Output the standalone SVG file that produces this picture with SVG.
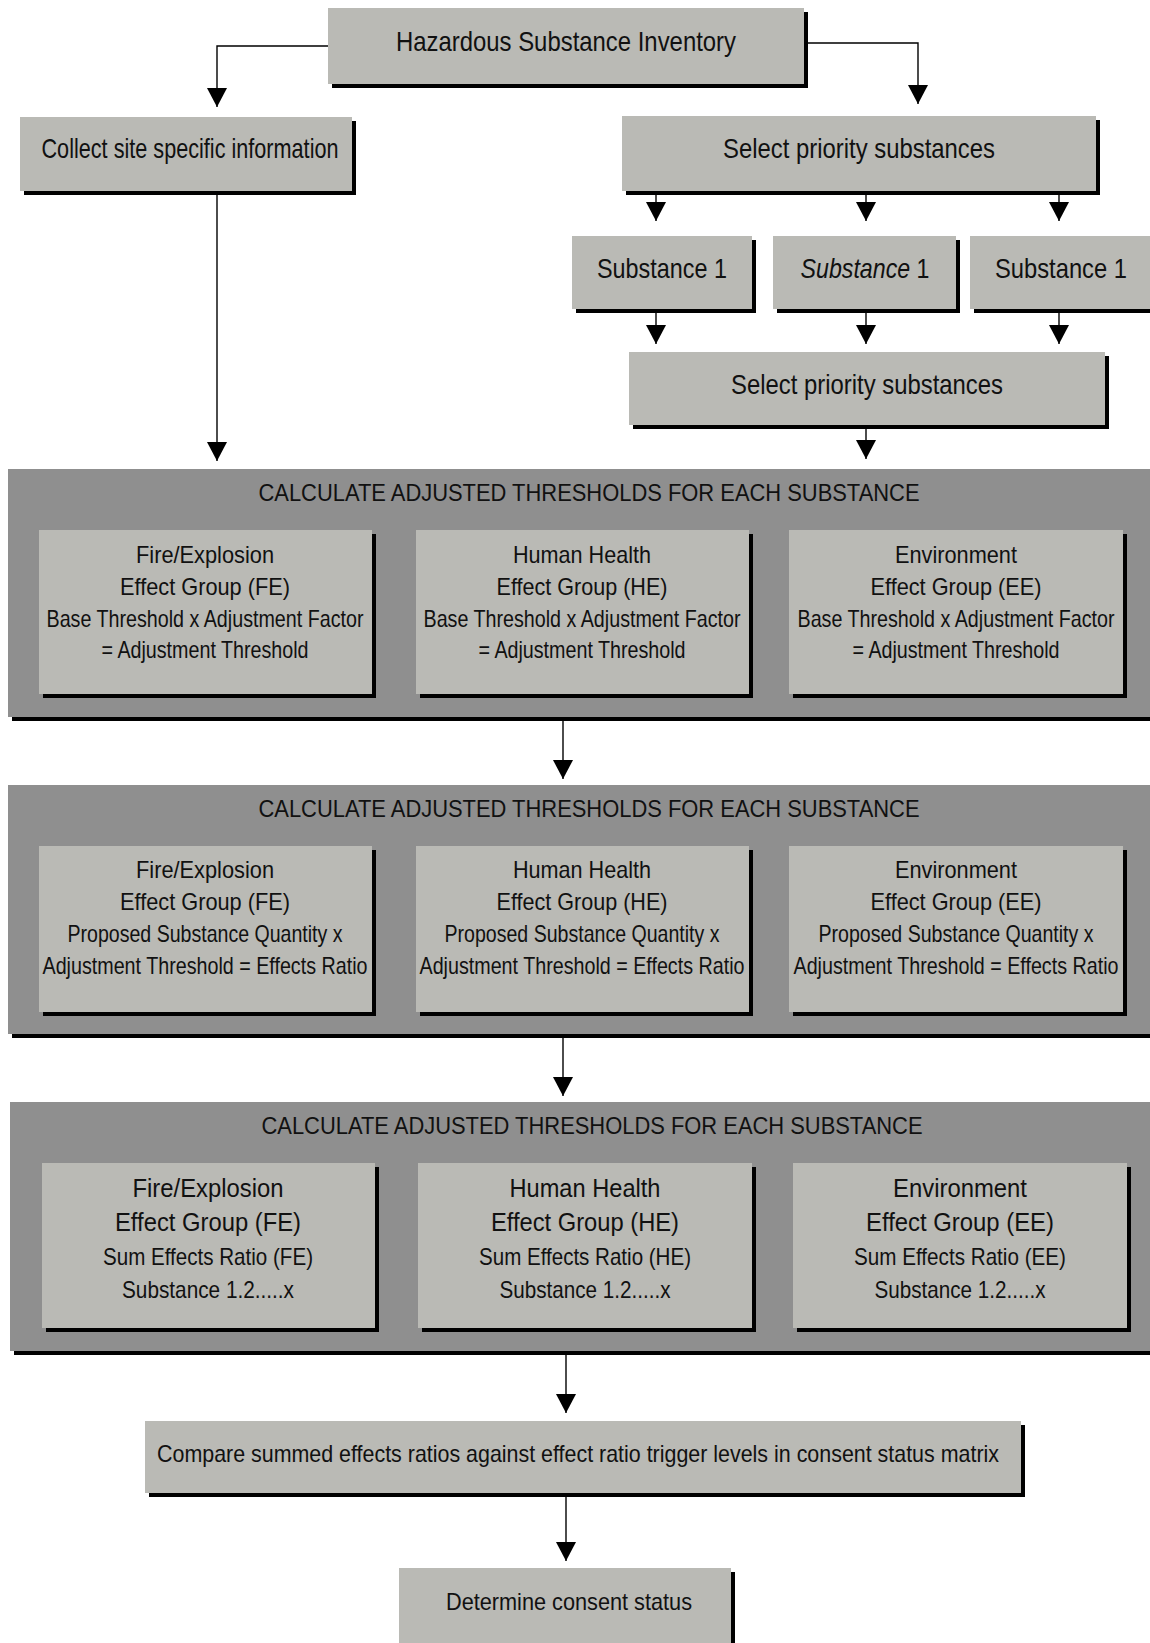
<svg xmlns="http://www.w3.org/2000/svg" width="1150" height="1643" viewBox="0 0 1150 1643">
<style>
.box{fill:#babab5}
.sh{fill:#000}
.panel{fill:#8f8f8f}
text{font-family:"Liberation Sans Narrow","Arial Narrow","Liberation Sans",Arial,sans-serif;fill:#111;text-anchor:middle}
.t28{font-size:28px}
.t24{font-size:24px}
.t26{font-size:26px}
.con{fill:none;stroke:#000;stroke-width:1.4}
</style>
<defs>
<marker id="ah" markerUnits="userSpaceOnUse" markerWidth="20" markerHeight="20" refX="19" refY="10" orient="auto">
<path d="M0,0 L19,10 L0,20 Z" fill="#000"/>
</marker>
</defs>
<rect width="1150" height="1643" fill="#fff"/>

<g id="hazardous">
<rect class="sh" x="332" y="12" width="476" height="76"/>
<rect class="box" x="328" y="8" width="476" height="76"/>
<text class="t28" x="566" y="51" textLength="340" lengthAdjust="spacingAndGlyphs">Hazardous Substance Inventory</text>
</g>

<g id="collect">
<rect class="sh" x="24" y="121" width="332" height="74"/>
<rect class="box" x="20" y="117" width="332" height="74"/>
<text class="t28" x="190" y="158" textLength="297" lengthAdjust="spacingAndGlyphs">Collect site specific information</text>
</g>

<g id="select1">
<rect class="sh" x="626" y="120" width="474" height="75"/>
<rect class="box" x="622" y="116" width="474" height="75"/>
<text class="t28" x="859" y="158" textLength="272" lengthAdjust="spacingAndGlyphs">Select priority substances</text>
</g>

<g id="sub1">
<rect class="sh" x="576" y="240" width="180" height="73"/>
<rect class="box" x="572" y="236" width="180" height="73"/>
<text class="t28" x="662" y="278" textLength="130" lengthAdjust="spacingAndGlyphs">Substance 1</text>
</g>
<g id="sub2">
<rect class="sh" x="777" y="240" width="183" height="73"/>
<rect class="box" x="773" y="236" width="183" height="73"/>
<text class="t28" x="865" y="278" textLength="129" lengthAdjust="spacingAndGlyphs"><tspan font-style="italic">Substance</tspan> 1</text>
</g>
<g id="sub3">
<rect class="sh" x="974" y="240" width="180" height="73"/>
<rect class="box" x="970" y="236" width="180" height="73"/>
<text class="t28" x="1061" y="278" textLength="132" lengthAdjust="spacingAndGlyphs">Substance 1</text>
</g>

<g id="select2">
<rect class="sh" x="633" y="356" width="476" height="73"/>
<rect class="box" x="629" y="352" width="476" height="73"/>
<text class="t28" x="867" y="394" textLength="272" lengthAdjust="spacingAndGlyphs">Select priority substances</text>
</g>

<g id="panel1">
<rect class="sh" x="12" y="473" width="1142" height="248"/>
<rect class="panel" x="8" y="469" width="1142" height="248"/>
<text class="t24" x="589" y="501" textLength="661" lengthAdjust="spacingAndGlyphs">CALCULATE ADJUSTED THRESHOLDS FOR EACH SUBSTANCE</text>
<g id="p1-fe">
<rect class="sh" x="43" y="534" width="333" height="164"/>
<rect class="box" x="39" y="530" width="333" height="164"/>
<text class="t24" x="205" y="563" textLength="138" lengthAdjust="spacingAndGlyphs">Fire/Explosion</text>
<text class="t24" x="205" y="595" textLength="170" lengthAdjust="spacingAndGlyphs">Effect Group (FE)</text>
<text class="t24" x="205" y="627" textLength="317" lengthAdjust="spacingAndGlyphs">Base Threshold x Adjustment Factor</text>
<text class="t24" x="205" y="658" textLength="207" lengthAdjust="spacingAndGlyphs">= Adjustment Threshold</text>
</g>
<g id="p1-he">
<rect class="sh" x="420" y="534" width="333" height="164"/>
<rect class="box" x="416" y="530" width="333" height="164"/>
<text class="t24" x="582" y="563" textLength="138" lengthAdjust="spacingAndGlyphs">Human Health</text>
<text class="t24" x="582" y="595" textLength="171" lengthAdjust="spacingAndGlyphs">Effect Group (HE)</text>
<text class="t24" x="582" y="627" textLength="317" lengthAdjust="spacingAndGlyphs">Base Threshold x Adjustment Factor</text>
<text class="t24" x="582" y="658" textLength="207" lengthAdjust="spacingAndGlyphs">= Adjustment Threshold</text>
</g>
<g id="p1-ee">
<rect class="sh" x="793" y="534" width="334" height="164"/>
<rect class="box" x="789" y="530" width="334" height="164"/>
<text class="t24" x="956" y="563" textLength="122" lengthAdjust="spacingAndGlyphs">Environment</text>
<text class="t24" x="956" y="595" textLength="171" lengthAdjust="spacingAndGlyphs">Effect Group (EE)</text>
<text class="t24" x="956" y="627" textLength="317" lengthAdjust="spacingAndGlyphs">Base Threshold x Adjustment Factor</text>
<text class="t24" x="956" y="658" textLength="207" lengthAdjust="spacingAndGlyphs">= Adjustment Threshold</text>
</g>
</g>

<g id="panel2">
<rect class="sh" x="12" y="789" width="1142" height="249"/>
<rect class="panel" x="8" y="785" width="1142" height="249"/>
<text class="t24" x="589" y="817" textLength="661" lengthAdjust="spacingAndGlyphs">CALCULATE ADJUSTED THRESHOLDS FOR EACH SUBSTANCE</text>
<g id="p2-fe">
<rect class="sh" x="43" y="850" width="333" height="166"/>
<rect class="box" x="39" y="846" width="333" height="166"/>
<text class="t24" x="205" y="878" textLength="138" lengthAdjust="spacingAndGlyphs">Fire/Explosion</text>
<text class="t24" x="205" y="910" textLength="170" lengthAdjust="spacingAndGlyphs">Effect Group (FE)</text>
<text class="t24" x="205" y="942" textLength="275" lengthAdjust="spacingAndGlyphs">Proposed Substance Quantity x</text>
<text class="t24" x="205" y="974" textLength="325" lengthAdjust="spacingAndGlyphs">Adjustment Threshold = Effects Ratio</text>
</g>
<g id="p2-he">
<rect class="sh" x="420" y="850" width="333" height="166"/>
<rect class="box" x="416" y="846" width="333" height="166"/>
<text class="t24" x="582" y="878" textLength="138" lengthAdjust="spacingAndGlyphs">Human Health</text>
<text class="t24" x="582" y="910" textLength="171" lengthAdjust="spacingAndGlyphs">Effect Group (HE)</text>
<text class="t24" x="582" y="942" textLength="275" lengthAdjust="spacingAndGlyphs">Proposed Substance Quantity x</text>
<text class="t24" x="582" y="974" textLength="325" lengthAdjust="spacingAndGlyphs">Adjustment Threshold = Effects Ratio</text>
</g>
<g id="p2-ee">
<rect class="sh" x="793" y="850" width="334" height="166"/>
<rect class="box" x="789" y="846" width="334" height="166"/>
<text class="t24" x="956" y="878" textLength="122" lengthAdjust="spacingAndGlyphs">Environment</text>
<text class="t24" x="956" y="910" textLength="171" lengthAdjust="spacingAndGlyphs">Effect Group (EE)</text>
<text class="t24" x="956" y="942" textLength="275" lengthAdjust="spacingAndGlyphs">Proposed Substance Quantity x</text>
<text class="t24" x="956" y="974" textLength="325" lengthAdjust="spacingAndGlyphs">Adjustment Threshold = Effects Ratio</text>
</g>
</g>

<g id="panel3">
<rect class="sh" x="14" y="1106" width="1140" height="249"/>
<rect class="panel" x="10" y="1102" width="1140" height="249"/>
<text class="t24" x="592" y="1134" textLength="661" lengthAdjust="spacingAndGlyphs">CALCULATE ADJUSTED THRESHOLDS FOR EACH SUBSTANCE</text>
<g id="p3-fe">
<rect class="sh" x="46" y="1167" width="333" height="165"/>
<rect class="box" x="42" y="1163" width="333" height="165"/>
<text class="t26" x="208" y="1197" textLength="151" lengthAdjust="spacingAndGlyphs">Fire/Explosion</text>
<text class="t26" x="208" y="1231" textLength="186" lengthAdjust="spacingAndGlyphs">Effect Group (FE)</text>
<text class="t24" x="208" y="1265" textLength="210" lengthAdjust="spacingAndGlyphs">Sum Effects Ratio (FE)</text>
<text class="t24" x="208" y="1298" textLength="172" lengthAdjust="spacingAndGlyphs">Substance 1.2.....x</text>
</g>
<g id="p3-he">
<rect class="sh" x="422" y="1167" width="334" height="165"/>
<rect class="box" x="418" y="1163" width="334" height="165"/>
<text class="t26" x="585" y="1197" textLength="151" lengthAdjust="spacingAndGlyphs">Human Health</text>
<text class="t26" x="585" y="1231" textLength="188" lengthAdjust="spacingAndGlyphs">Effect Group (HE)</text>
<text class="t24" x="585" y="1265" textLength="212" lengthAdjust="spacingAndGlyphs">Sum Effects Ratio (HE)</text>
<text class="t24" x="585" y="1298" textLength="171" lengthAdjust="spacingAndGlyphs">Substance 1.2.....x</text>
</g>
<g id="p3-ee">
<rect class="sh" x="797" y="1167" width="334" height="165"/>
<rect class="box" x="793" y="1163" width="334" height="165"/>
<text class="t26" x="960" y="1197" textLength="134" lengthAdjust="spacingAndGlyphs">Environment</text>
<text class="t26" x="960" y="1231" textLength="188" lengthAdjust="spacingAndGlyphs">Effect Group (EE)</text>
<text class="t24" x="960" y="1265" textLength="212" lengthAdjust="spacingAndGlyphs">Sum Effects Ratio (EE)</text>
<text class="t24" x="960" y="1298" textLength="171" lengthAdjust="spacingAndGlyphs">Substance 1.2.....x</text>
</g>
</g>

<g id="compare">
<rect class="sh" x="149" y="1425" width="876" height="72"/>
<rect class="box" x="145" y="1421" width="876" height="72"/>
<text class="t24" x="578" y="1462" textLength="842" lengthAdjust="spacingAndGlyphs">Compare summed effects ratios against effect ratio trigger levels in consent status matrix</text>
</g>

<g id="determine">
<rect class="sh" x="403" y="1572" width="332" height="80"/>
<rect class="box" x="399" y="1568" width="332" height="80"/>
<text class="t24" x="569" y="1610" textLength="246" lengthAdjust="spacingAndGlyphs">Determine consent status</text>
</g>

<g id="connectors">
<path class="con" d="M328,46 H217 V107" marker-end="url(#ah)"/>
<path class="con" d="M808,43 H918 V104" marker-end="url(#ah)"/>
<path class="con" d="M656,195 V221" marker-end="url(#ah)"/>
<path class="con" d="M866,195 V221" marker-end="url(#ah)"/>
<path class="con" d="M1059,195 V221" marker-end="url(#ah)"/>
<path class="con" d="M656,313 V344" marker-end="url(#ah)"/>
<path class="con" d="M866,313 V344" marker-end="url(#ah)"/>
<path class="con" d="M1059,313 V344" marker-end="url(#ah)"/>
<path class="con" d="M866,429 V459" marker-end="url(#ah)"/>
<path class="con" d="M217,195 V461" marker-end="url(#ah)"/>
<path class="con" d="M563,721 V779" marker-end="url(#ah)"/>
<path class="con" d="M563,1038 V1096" marker-end="url(#ah)"/>
<path class="con" d="M566,1355 V1413" marker-end="url(#ah)"/>
<path class="con" d="M566,1497 V1561" marker-end="url(#ah)"/>
</g>
</svg>
